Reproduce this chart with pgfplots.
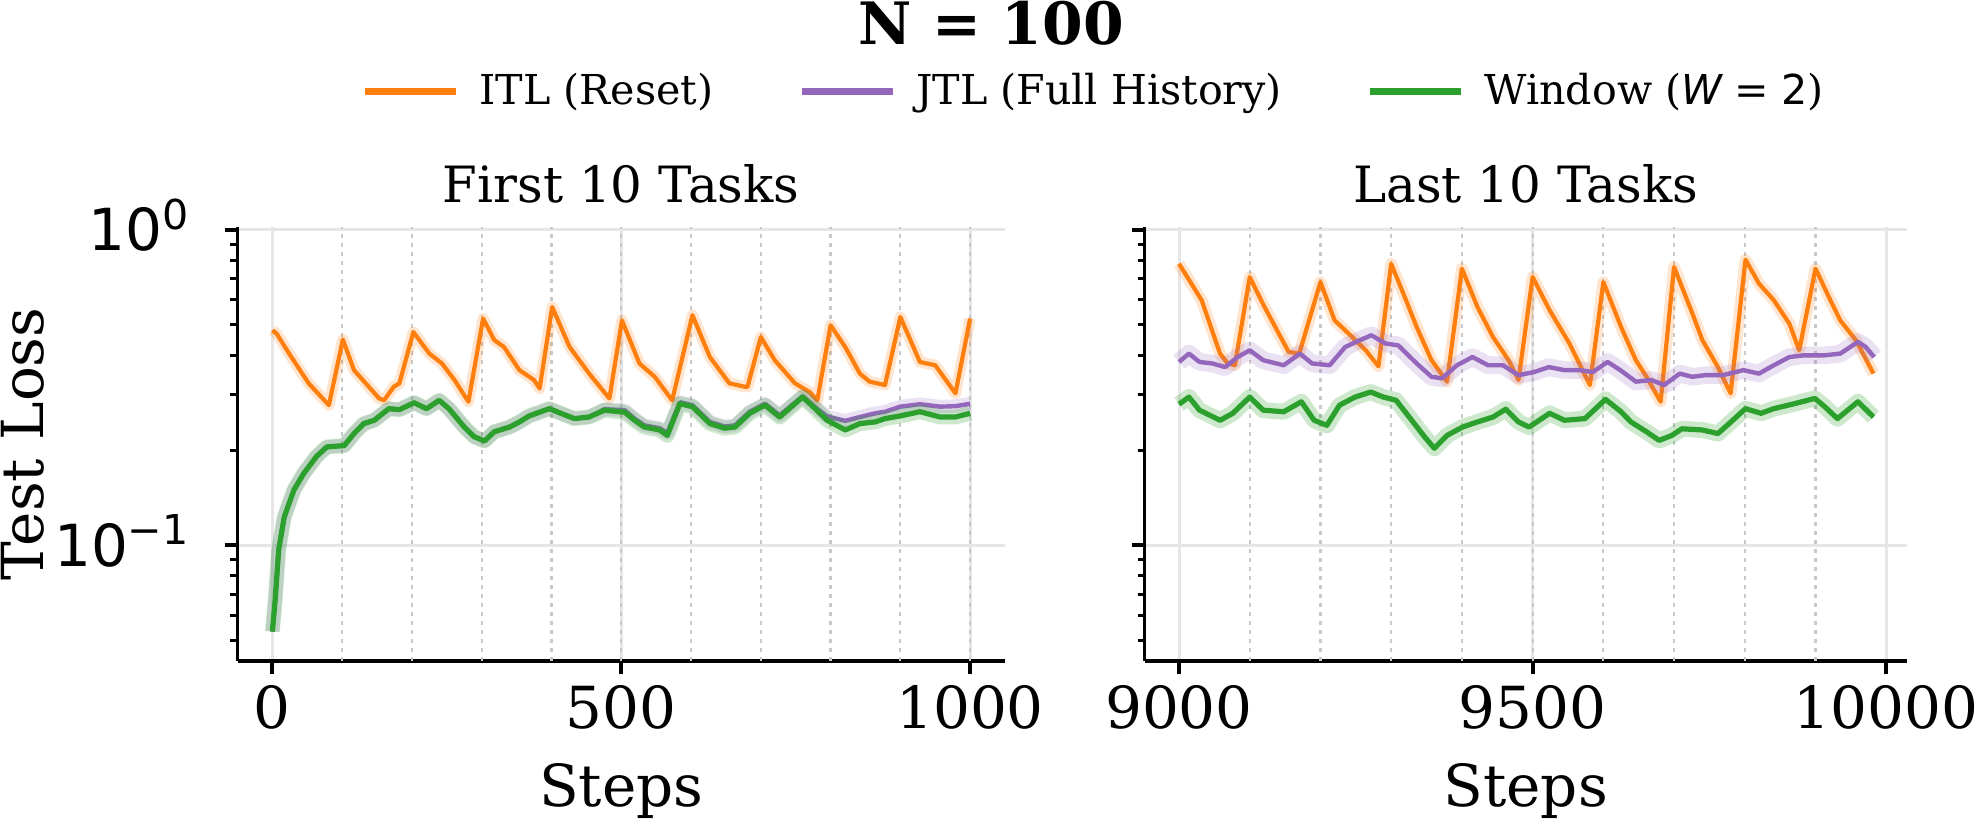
\documentclass[border=0pt]{standalone}
\usepackage{fontspec}
\setmainfont{DejaVu Serif}
\newfontfamily\dvsans{DejaVu Sans}
\usepackage{pgfplots}
\pgfplotsset{compat=1.18}
\usepackage{pgfplotstable}

\definecolor{cO}{HTML}{FF7F0E}
\definecolor{cP}{HTML}{9467BD}
\definecolor{cG}{HTML}{2CA02C}
\definecolor{gridgray}{HTML}{E6E6E6}
\definecolor{dotgray}{HTML}{C8C8C8}

\pgfplotstableread{
x y
0 0.480
6 0.469
24 0.405
52 0.326
81 0.278
101 0.449
117 0.359
153 0.292
160 0.288
174 0.318
182 0.326
202 0.474
225 0.405
243 0.377
261 0.334
281 0.285
302 0.523
318 0.447
332 0.425
354 0.359
375 0.334
383 0.314
401 0.569
426 0.425
454 0.350
483 0.292
501 0.516
526 0.377
548 0.342
573 0.288
602 0.536
627 0.395
655 0.326
677 0.318
681 0.318
700 0.457
720 0.386
749 0.326
770 0.306
781 0.288
800 0.498
821 0.425
842 0.350
856 0.330
878 0.322
900 0.529
928 0.381
950 0.372
979 0.303
1000 0.523
}\orangeL

\pgfplotstableread{
x y
0 0.0533
4 0.067
9 0.0966
17 0.123
31 0.150
45 0.169
63 0.191
78 0.205
103 0.207
117 0.226
131 0.243
146 0.249
167 0.271
182 0.269
203 0.283
221 0.271
239 0.288
253 0.271
275 0.237
289 0.221
304 0.214
318 0.229
340 0.237
354 0.246
368 0.257
397 0.271
419 0.259
433 0.252
454 0.255
476 0.268
505 0.264
519 0.249
533 0.237
555 0.232
566 0.223
584 0.281
602 0.275
627 0.243
648 0.235
663 0.237
684 0.262
706 0.278
727 0.255
760 0.295
778 0.271
795 0.249
821 0.232
842 0.243
864 0.246
878 0.252
900 0.257
928 0.265
957 0.255
979 0.255
1000 0.262
}\greenL

\pgfplotstableread{
x y
0 0.0533
4 0.067
9 0.0966
17 0.123
31 0.150
45 0.169
63 0.191
78 0.205
103 0.207
117 0.226
131 0.243
146 0.249
167 0.271
182 0.269
203 0.283
221 0.271
239 0.288
253 0.271
275 0.237
289 0.221
304 0.214
318 0.229
340 0.237
354 0.246
368 0.257
397 0.271
419 0.259
433 0.252
454 0.255
476 0.270
505 0.268
519 0.252
533 0.240
555 0.235
566 0.227
584 0.284
602 0.278
627 0.246
648 0.238
663 0.240
684 0.265
706 0.281
727 0.258
760 0.297
778 0.274
795 0.256
821 0.248
842 0.255
864 0.262
878 0.265
900 0.275
928 0.280
957 0.275
979 0.276
1000 0.281
}\purpleL

\pgfplotstableread{
x y
9000 0.780
9032 0.598
9058 0.405
9069 0.377
9079 0.372
9100 0.708
9119 0.580
9141 0.469
9155 0.410
9170 0.405
9200 0.683
9220 0.516
9235 0.480
9264 0.415
9282 0.369
9300 0.780
9321 0.598
9336 0.492
9357 0.386
9379 0.330
9400 0.753
9422 0.569
9444 0.457
9466 0.386
9480 0.334
9500 0.708
9524 0.556
9552 0.436
9581 0.322
9600 0.683
9625 0.492
9646 0.386
9661 0.342
9681 0.285
9700 0.762
9726 0.542
9740 0.447
9762 0.367
9780 0.303
9801 0.804
9820 0.675
9841 0.598
9863 0.504
9877 0.415
9900 0.753
9921 0.598
9935 0.516
9957 0.447
9982 0.350
}\orangeR

\pgfplotstableread{
x y
9000 0.381
9014 0.405
9029 0.381
9047 0.377
9065 0.367
9083 0.395
9100 0.415
9119 0.386
9148 0.372
9171 0.405
9188 0.377
9213 0.372
9235 0.425
9256 0.447
9272 0.463
9292 0.436
9310 0.430
9336 0.377
9357 0.342
9372 0.338
9393 0.372
9415 0.395
9437 0.372
9458 0.372
9480 0.346
9502 0.354
9523 0.367
9545 0.359
9567 0.359
9585 0.354
9606 0.381
9624 0.359
9646 0.330
9668 0.334
9686 0.322
9708 0.350
9726 0.342
9744 0.346
9769 0.346
9798 0.359
9820 0.350
9841 0.372
9863 0.395
9884 0.400
9913 0.400
9935 0.405
9960 0.441
9971 0.425
9983 0.395
}\purpleR

\pgfplotstableread{
x y
9000 0.280
9014 0.295
9029 0.268
9058 0.249
9076 0.262
9100 0.295
9119 0.268
9148 0.265
9173 0.285
9191 0.249
9209 0.240
9227 0.278
9249 0.295
9271 0.306
9289 0.295
9307 0.288
9329 0.249
9347 0.221
9361 0.203
9379 0.223
9401 0.237
9422 0.246
9444 0.255
9462 0.270
9480 0.246
9495 0.237
9524 0.262
9545 0.249
9574 0.252
9603 0.290
9625 0.265
9639 0.246
9661 0.229
9679 0.215
9697 0.223
9711 0.234
9740 0.232
9762 0.226
9783 0.249
9801 0.271
9823 0.262
9841 0.271
9870 0.281
9899 0.292
9913 0.275
9931 0.252
9960 0.285
9982 0.255
}\greenR

\newcommand{\supx}[1]{\raisebox{5.4pt}{\fontsize{10.3}{11}\selectfont #1}}

\begin{document}
\begin{tikzpicture}
\path[use as bounding box] (0,0) rectangle (494pt,-205.25pt);
\node[font=\bfseries\fontsize{14.6}{17}\selectfont, anchor=base] at (247.8pt,-11.25pt) {N = 100};

\begin{axis}[at={(59.375pt,-165.25pt)}, anchor=south west, width=191.875pt,
    scale only axis, height=108.5pt,
    ymode=log, ymin=0.043, ymax=1.02,
    axis x line*=bottom, axis y line*=left,
    axis line style={-, line width=0.83pt, black},
    tick align=outside,
    major tick length=3.2pt, minor tick length=1.8pt,
    major tick style={black, line width=1pt},
    minor tick style={black, line width=0.75pt},
    ytick={0.1,1},
    minor ytick={0.05,0.06,0.07,0.08,0.09,0.2,0.3,0.4,0.5,0.6,0.7,0.8,0.9},
    scaled x ticks=false,
    xmajorgrids, ymajorgrids,
    major grid style={gridgray, line width=0.75pt},
    extra x ticks={100,200,300,400,500,600,700,800,900,1000},
    extra x tick labels={},
    extra x tick style={major tick length=0pt,
      major grid style={dotgray, line width=0.55pt, dash pattern=on 1pt off 1.25pt}},
    xticklabel style={font=\fontsize{14.5}{17}\selectfont, anchor=base, yshift=-13.75pt},
    yticklabel style={font=\dvsans\fontsize{14.5}{17}\selectfont, anchor=base east, inner xsep=0pt, xshift=-8.8pt, yshift=-5.3pt},
    xlabel style={font=\fontsize{14.5}{17}\selectfont, at={(axis description cs:0.5,-0.3355)}, anchor=base},
    title style={font=\fontsize{12.5}{15}\selectfont, at={(axis description cs:0.5,1.0)}, anchor=base},
  xmin=-50, xmax=1050, xtick={0,500,1000}, xticklabels={0,500,1000},
  yticklabels={{10\supx{−1}},{10\supx{0}}},
  title={First 10 Tasks}, xlabel={Steps}, ylabel={Test Loss},
  ylabel style={font=\fontsize{14.5}{17}\selectfont, at={(axis description cs:-0.2530,0.5)}, anchor=base},
  legend style={at={(axis description cs:0.161,1.3118)}, anchor=west, draw=none, fill=none,
    font=\fontsize{10.3}{12}\selectfont, legend columns=3, inner sep=0pt,
    /tikz/every even column/.append style={column sep=19.25pt}},
  legend cell align=left,
  legend image code/.code={\draw[#1, line width=1.65pt] (0pt,0pt) -- (22.75pt,0pt); \path[draw=none] (0pt,0pt) -- (26.6pt,0pt);},
]
\addplot[draw=cO, draw opacity=0.2, line width=2.8pt, line join=round, forget plot] table[x=x,y=y]{\orangeL};
\addplot[draw=cO, line width=1.05pt, line join=round] table[x=x,y=y]{\orangeL};
\addlegendentry{ITL (Reset)}
\addplot[draw=cP, draw opacity=0.2, line width=3.4pt, line join=round, forget plot] table[x=x,y=y]{\purpleL};
\addplot[draw=cP, line width=1.1pt, line join=round] table[x=x,y=y]{\purpleL};
\addlegendentry{JTL (Full History)}
\addplot[draw=cG, draw opacity=0.24, line width=3.7pt, line join=round, forget plot] table[x=x,y=y]{\greenL};
\addplot[draw=cG, line width=1.3pt, line join=round] table[x=x,y=y]{\greenL};
\addlegendentry{Window ({\dvsans\itshape W}\hspace{0.3em}={\hspace{0.3em}\dvsans 2})}
\end{axis}

\begin{axis}[at={(286.175pt,-165.25pt)}, anchor=south west, width=190.5pt,
    scale only axis, height=108.5pt,
    ymode=log, ymin=0.043, ymax=1.02,
    axis x line*=bottom, axis y line*=left,
    axis line style={-, line width=0.83pt, black},
    tick align=outside,
    major tick length=3.2pt, minor tick length=1.8pt,
    major tick style={black, line width=1pt},
    minor tick style={black, line width=0.75pt},
    ytick={0.1,1},
    minor ytick={0.05,0.06,0.07,0.08,0.09,0.2,0.3,0.4,0.5,0.6,0.7,0.8,0.9},
    scaled x ticks=false,
    xmajorgrids, ymajorgrids,
    major grid style={gridgray, line width=0.75pt},
    extra x ticks={9100,9200,9300,9400,9500,9600,9700,9800,9900},
    extra x tick labels={},
    extra x tick style={major tick length=0pt,
      major grid style={dotgray, line width=0.55pt, dash pattern=on 1pt off 1.25pt}},
    xticklabel style={font=\fontsize{14.5}{17}\selectfont, anchor=base, yshift=-13.75pt},
    xlabel style={font=\fontsize{14.5}{17}\selectfont, at={(axis description cs:0.5,-0.3355)}, anchor=base},
    title style={font=\fontsize{12.5}{15}\selectfont, at={(axis description cs:0.5,1.0)}, anchor=base},
  xmin=8951.5, xmax=10029, xtick={9000,9500,10000}, xticklabels={9000,9500,10000},
  yticklabels={},
  title={Last 10 Tasks}, xlabel={Steps},
]
\addplot[draw=cO, draw opacity=0.2, line width=2.9pt, line join=round] table[x=x,y=y]{\orangeR};
\addplot[draw=cO, line width=1.05pt, line join=round] table[x=x,y=y]{\orangeR};
\addplot[draw=cP, draw opacity=0.2, line width=4.4pt, line join=round] table[x=x,y=y]{\purpleR};
\addplot[draw=cP, line width=1.1pt, line join=round] table[x=x,y=y]{\purpleR};
\addplot[draw=cG, draw opacity=0.24, line width=4.0pt, line join=round] table[x=x,y=y]{\greenR};
\addplot[draw=cG, line width=1.3pt, line join=round] table[x=x,y=y]{\greenR};
\end{axis}
\end{tikzpicture}
\end{document}
